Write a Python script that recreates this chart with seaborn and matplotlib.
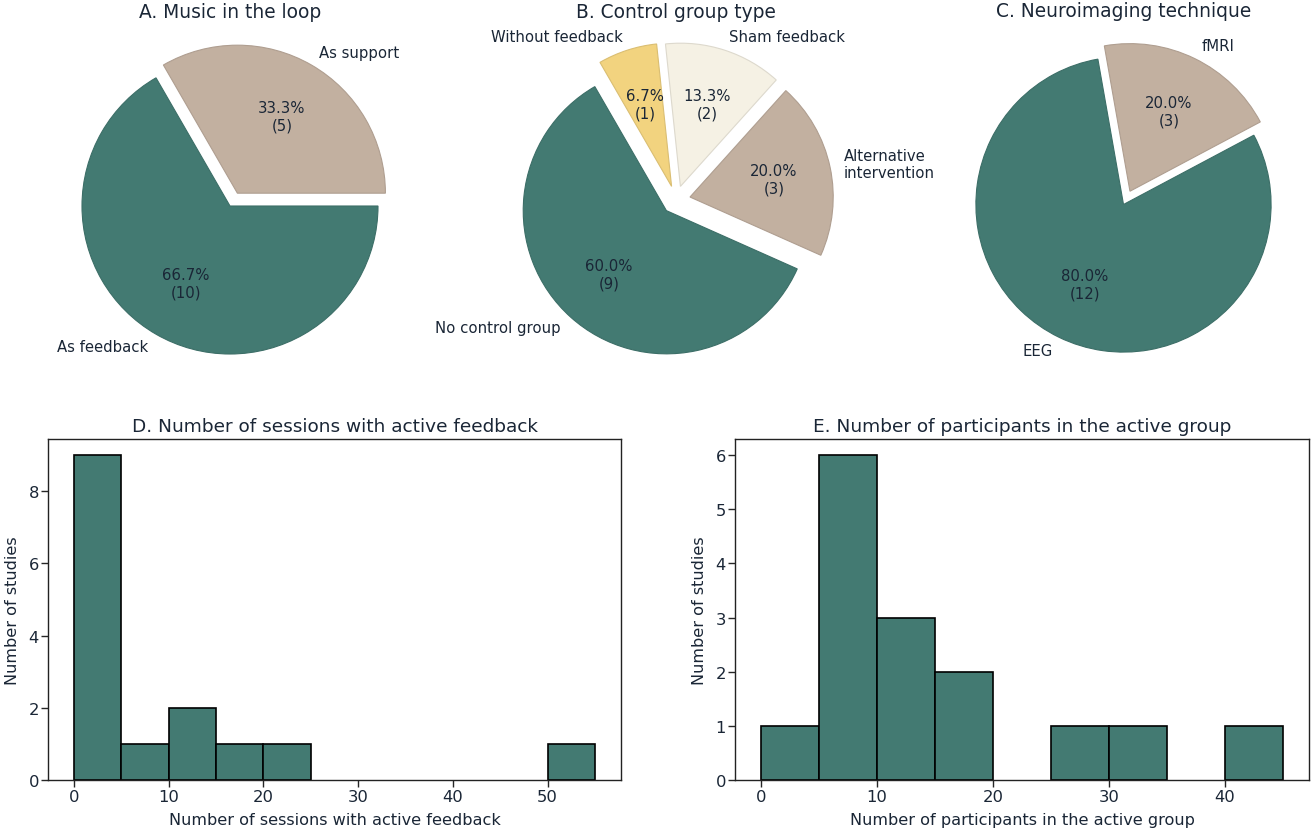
import matplotlib
matplotlib.use("Agg")
import matplotlib.pyplot as plt
import seaborn as sns

# ---- data ----
loop_labels = ["As feedback", "As support"]
loop_counts = [10, 5]

control_labels = ["No control group", "Without feedback", "Sham feedback", "Alternative\nintervention"]
control_counts = [9, 1, 2, 3]

imaging_labels = ["EEG", "fMRI"]
imaging_counts = [12, 3]

session_edges = [0, 5, 10, 15, 20, 25, 30, 35, 40, 45, 50, 55]
session_counts = [9, 1, 2, 1, 1, 0, 0, 0, 0, 0, 1]

participant_edges = [0, 5, 10, 15, 20, 25, 30, 35, 40, 45]
participant_counts = [1, 6, 3, 2, 0, 1, 1, 0, 1]

# ---- style ----
TEAL = "#437a72"
BEIGE = "#c2b0a0"
YELLOW = "#f2d37f"
CREAM = "#f5f1e4"
INK = "#1a2636"

sns.set_style("ticks")
plt.rcParams["font.family"] = ["DejaVu Sans"]
plt.rcParams["text.color"] = INK
plt.rcParams["axes.labelcolor"] = INK
plt.rcParams["xtick.labelcolor"] = INK
plt.rcParams["ytick.labelcolor"] = INK
plt.rcParams["axes.edgecolor"] = "#222222"

W, H = 1314, 837
fig = plt.figure(figsize=(W / 100, H / 100), dpi=100)


def px_axes(left, top, width, height):
    return fig.add_axes([left / W, (H - top - height) / H, width / W, height / H])


def pct_fmt(counts):
    total = sum(counts)

    def fmt(p):
        return "{:.1f}%\n({:d})".format(p, int(round(p * total / 100)))
    return fmt


def draw_pie(ax, counts, labels, colors, explode, startangle, title):
    wedges, texts, autotexts = ax.pie(
        counts, labels=labels, colors=colors, explode=explode,
        startangle=startangle, counterclock=False,
        autopct=pct_fmt(counts), pctdistance=0.6, labeldistance=1.1,
        wedgeprops=dict(linewidth=0.8),
        textprops=dict(fontsize=10.7, color=INK),
    )
    # thin edge a shade darker than each wedge
    for w in wedges:
        r, g, b, _ = w.get_facecolor()
        w.set_edgecolor((r * 0.9, g * 0.9, b * 0.9))
    ax.set_title(title, fontsize=13.4, pad=1)


# ---- top row: pies ----
ax_a = px_axes(45, 22, 370, 370)
draw_pie(ax_a, loop_counts, loop_labels, [TEAL, BEIGE], [0, 0.1], 0,
         "A. Music in the loop")

ax_b = px_axes(497, 22, 358, 358)
draw_pie(ax_b, control_counts, control_labels, [TEAL, YELLOW, CREAM, BEIGE],
         [0.1, 0.1, 0.1, 0.1], -24, "B. Control group type")

ax_c = px_axes(939, 21, 369, 369)
draw_pie(ax_c, imaging_counts, imaging_labels, [TEAL, BEIGE], [0, 0.1], 28,
         "C. Neuroimaging technique")


# ---- bottom row: histograms ----
def draw_hist(ax, edges, counts, title, xlabel):
    mids = [(edges[i] + edges[i + 1]) / 2 for i in range(len(counts))]
    sns.histplot(x=mids, weights=counts, bins=edges, ax=ax, color=TEAL,
                 alpha=1, edgecolor="black", linewidth=1.2)
    for p in ax.patches:
        if p.get_height() == 0:
            p.set_visible(False)
    ax.set_title(title, fontsize=13.3, pad=6)
    ax.set_xlabel(xlabel, fontsize=11.6, labelpad=6)
    ax.set_ylabel("Number of studies", fontsize=11.6, labelpad=6)
    ax.tick_params(labelsize=11.8, length=5, width=1, pad=1.5)
    for s in ax.spines.values():
        s.set_linewidth(1.0)
        s.set_visible(True)


ax_d = px_axes(48, 440, 573, 341)
draw_hist(ax_d, session_edges, session_counts,
          "D. Number of sessions with active feedback",
          "Number of sessions with active feedback")

ax_e = px_axes(735, 440, 574, 341)
draw_hist(ax_e, participant_edges, participant_counts,
          "E. Number of participants in the active group",
          "Number of participants in the active group")

fig.savefig("out.png", dpi=100)
